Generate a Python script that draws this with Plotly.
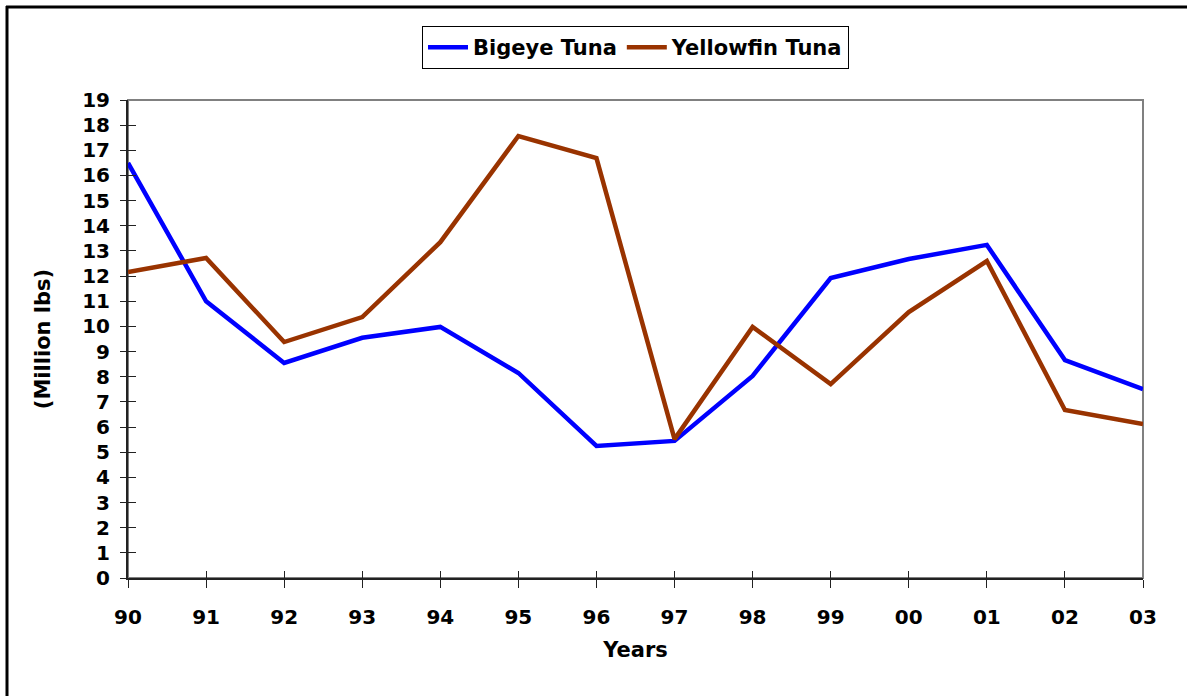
import plotly.graph_objects as go

years = ["90", "91", "92", "93", "94", "95", "96", "97", "98", "99", "00", "01", "02", "03"]
bigeye = [16.5, 11.0, 8.55, 9.55, 9.98, 8.15, 5.25, 5.45, 8.03, 11.92, 12.68, 13.24, 8.66, 7.51]
yellowfin = [12.16, 12.72, 9.38, 10.37, 13.35, 17.57, 16.69, 5.52, 9.98, 7.71, 10.57, 12.6, 6.68, 6.12]
y_ticks = list(range(0, 20))

W, H = 1187, 696
ML, MR, MT, MB = 128, 44, 100, 118
PW, PH = W - ML - MR, H - MT - MB

FONT = "Verdana, DejaVu Sans, sans-serif"


def px_x(px):
    return (px - ML) / PW


def px_y(py):
    return (H - MB - py) / PH


fig = go.Figure()
fig.add_trace(go.Scatter(x=years, y=bigeye, mode="lines", name="Bigeye Tuna",
                         line=dict(color="#0000FF", width=4.5)))
fig.add_trace(go.Scatter(x=years, y=yellowfin, mode="lines", name="Yellowfin Tuna",
                         line=dict(color="#993300", width=4.5)))

# inner half of the crossing tick marks
fig.add_trace(go.Scatter(x=years, y=[None] * len(years), xaxis="x2", yaxis="y2",
                         showlegend=False, hoverinfo="skip"))

axis_font = dict(family=FONT, size=20, color="black", weight="bold")
title_font = dict(family=FONT, size=21, color="black", weight="bold")

fig.update_layout(
    width=W, height=H,
    margin=dict(l=ML, r=MR, t=MT, b=MB),
    paper_bgcolor="white", plot_bgcolor="white",
    font=dict(family=FONT, color="black"),
    showlegend=True,
    legend=dict(orientation="h", x=0.5, xanchor="center", y=px_y(26), yanchor="top",
                bordercolor="black", borderwidth=1, bgcolor="white",
                font=dict(family=FONT, size=21, color="black", weight="bold"),
                itemwidth=40, tracegroupgap=0),
    xaxis=dict(type="category", categoryorder="array", categoryarray=years,
               range=[0, len(years) - 1], showgrid=False, zeroline=False,
               showline=True, linecolor="#222222", linewidth=2,
               ticks="outside", ticklen=8, tickcolor="#222222", tickwidth=1,
               tickfont=axis_font, ticklabelstandoff=12,
               title=dict(text="Years", font=title_font, standoff=14)),
    yaxis=dict(range=[0, 19], tickvals=y_ticks, showgrid=False, zeroline=False,
               showline=True, linecolor="#222222", linewidth=2,
               ticks="outside", ticklen=6, tickcolor="#222222", tickwidth=1,
               tickfont=axis_font, ticklabelstandoff=6,
               title=dict(text="(Million lbs)", font=title_font, standoff=26)),
    xaxis2=dict(type="category", categoryorder="array", categoryarray=years,
                range=[0, len(years) - 1], overlaying="x", anchor="y2",
                showgrid=False, zeroline=False, showline=False, showticklabels=False,
                ticks="inside", ticklen=7, tickcolor="#222222", tickwidth=1),
    yaxis2=dict(range=[0, 19], tickvals=y_ticks, overlaying="y", anchor="x2",
                showgrid=False, zeroline=False, showline=False, showticklabels=False,
                ticks="inside", ticklen=8, tickcolor="#222222", tickwidth=1),
    shapes=[
        # grey frame around the plotting area
        dict(type="rect", xref="paper", yref="paper", x0=0, x1=1, y0=0, y1=1,
             line=dict(color="#808080", width=2), layer="below"),
        # outer chart border
        dict(type="line", xref="paper", yref="paper", x0=px_x(7), x1=px_x(7),
             y0=px_y(6), y1=px_y(H + 2), line=dict(color="black", width=3)),
        dict(type="line", xref="paper", yref="paper", x0=px_x(6), x1=px_x(W + 2),
             y0=px_y(7), y1=px_y(7), line=dict(color="black", width=3)),
    ],
)

fig.write_html("out.html")
